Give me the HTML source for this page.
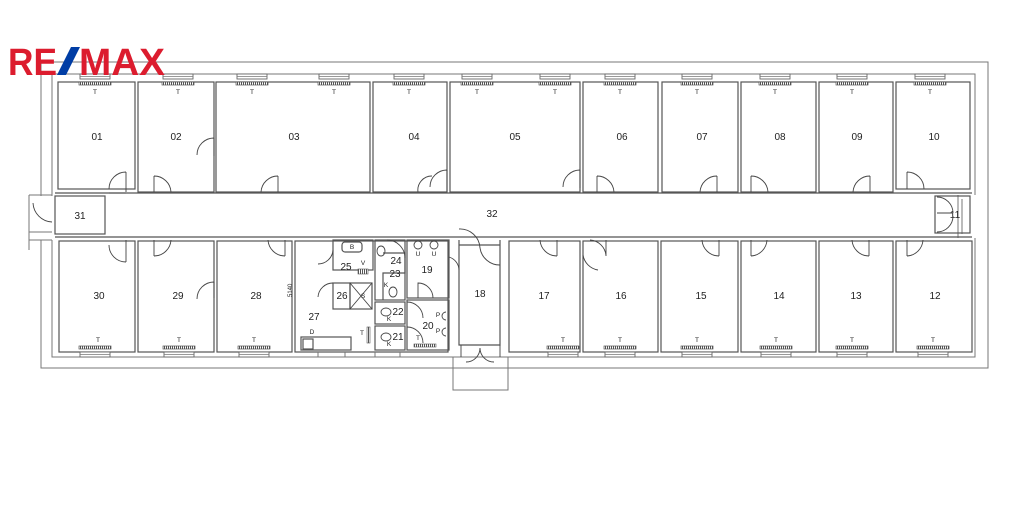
<!DOCTYPE html>
<html><head><meta charset="utf-8"><style>
html,body{margin:0;padding:0;background:#fff;}
svg{display:block;}
text{font-family:"Liberation Sans",sans-serif;fill:#222;}
.r{fill:none;stroke:#555;stroke-width:1.2}
.w{fill:none;stroke:#777;stroke-width:1}
.d{fill:none;stroke:#444;stroke-width:0.9}
.lb{font-size:10px;text-anchor:middle;}
.t{font-size:6.5px;text-anchor:middle;}
</style></head><body>
<svg width="1030" height="521" viewBox="0 0 1030 521" xmlns="http://www.w3.org/2000/svg">
<defs>
<pattern id="h" width="2" height="4" patternUnits="userSpaceOnUse"><rect width="2" height="4" fill="#fff"/><rect width="1" height="4" fill="#555"/></pattern>
<g id="wt"><rect x="0" y="0" width="30" height="5" fill="#fff" stroke="#666" stroke-width="0.9"/><line x1="0" y1="2.5" x2="30" y2="2.5" stroke="#777" stroke-width="0.8"/><rect x="-1" y="8" width="32" height="3" fill="url(#h)" stroke="#555" stroke-width="0.7"/></g>
<g id="wb"><rect x="-1" y="0" width="32" height="3" fill="url(#h)" stroke="#555" stroke-width="0.7"/><rect x="0" y="6" width="30" height="5" fill="#fff" stroke="#666" stroke-width="0.9"/><line x1="0" y1="8.5" x2="30" y2="8.5" stroke="#777" stroke-width="0.8"/></g>
</defs>

<!-- outer walls -->
<path class="w" d="M41 62 H988 V368 H41 V240 M41 196 V62"/>
<path class="w" d="M52 74 H975 V195 M975 238 V357 H52 V240 M52 196 V74"/>
<path class="w" d="M29 195 H52 M29 240 H52 M29 195 V250 M29 232 H52"/>
<path class="d" d="M33 203 A20 20 0 0 0 52 222"/>
<!-- entrance bottom -->
<path class="w" d="M453 357 V390 H508 V357 M453 368 H508"/>
<path class="w" d="M958 195 V238 M962 199 V234"/>

<!-- corridor -->
<path class="r" d="M55 193 H972 M55 237 H972"/>
<rect class="r" x="55" y="196" width="50" height="38"/>
<text class="lb" x="80" y="219">31</text>
<text class="lb" x="492" y="217">32</text>
<rect class="r" x="935" y="196" width="35" height="37"/>
<text class="lb" x="955" y="218">11</text>
<path class="d" d="M937 197 A16 16 0 0 1 953 213 M937 232 A16 16 0 0 0 953 216 M937 213 H953"/>

<!-- top rooms -->
<rect class="r" x="58" y="82" width="77" height="107"/>
<rect class="r" x="138" y="82" width="76" height="110"/>
<rect class="r" x="216" y="82" width="154" height="110"/>
<rect class="r" x="373" y="82" width="74" height="110"/>
<rect class="r" x="450" y="82" width="130" height="110"/>
<rect class="r" x="583" y="82" width="75" height="110"/>
<rect class="r" x="662" y="82" width="76" height="110"/>
<rect class="r" x="741" y="82" width="75" height="110"/>
<rect class="r" x="819" y="82" width="74" height="110"/>
<rect class="r" x="896" y="82" width="74" height="107"/>
<text class="lb" x="97" y="140">01</text><text class="lb" x="176" y="140">02</text><text class="lb" x="294" y="140">03</text><text class="lb" x="414" y="140">04</text><text class="lb" x="515" y="140">05</text><text class="lb" x="622" y="140">06</text><text class="lb" x="702" y="140">07</text><text class="lb" x="780" y="140">08</text><text class="lb" x="857" y="140">09</text><text class="lb" x="934" y="140">10</text>
<!-- top windows -->
<use href="#wt" x="80" y="74"/><use href="#wt" x="163" y="74"/><use href="#wt" x="237" y="74"/><use href="#wt" x="319" y="74"/><use href="#wt" x="394" y="74"/><use href="#wt" x="462" y="74"/><use href="#wt" x="540" y="74"/><use href="#wt" x="605" y="74"/><use href="#wt" x="682" y="74"/><use href="#wt" x="760" y="74"/><use href="#wt" x="837" y="74"/><use href="#wt" x="915" y="74"/>
<text class="t" x="95" y="94">T</text><text class="t" x="178" y="94">T</text><text class="t" x="252" y="94">T</text><text class="t" x="334" y="94">T</text><text class="t" x="409" y="94">T</text><text class="t" x="477" y="94">T</text><text class="t" x="555" y="94">T</text><text class="t" x="620" y="94">T</text><text class="t" x="697" y="94">T</text><text class="t" x="775" y="94">T</text><text class="t" x="852" y="94">T</text><text class="t" x="930" y="94">T</text>
<!-- top doors -->
<path class="d" d="M126 172 V192 M126 172 A17 17 0 0 0 109 189 M154 176 V192 M154 176 A17 17 0 0 1 171 192 M214 138 V156 M214 138 A17 17 0 0 0 197 155 M278 176 V192 M278 176 A17 17 0 0 0 261 192 M447 170 V192 M447 170 A17 17 0 0 0 430 187 M432 176 A14 14 0 0 0 418 192 M580 170 V188 M580 170 A17 17 0 0 0 563 187 M597 176 V192 M597 176 A17 17 0 0 1 614 192 M717 176 V192 M717 176 A17 17 0 0 0 700 192 M751 176 V192 M751 176 A17 17 0 0 1 768 192 M870 176 V192 M870 176 A17 17 0 0 0 853 192 M907 172 V189 M907 172 A17 17 0 0 1 924 189 M109 193 H126"/>

<!-- bottom rooms -->
<rect class="r" x="59" y="241" width="76" height="111"/>
<rect class="r" x="138" y="241" width="76" height="111"/>
<rect class="r" x="217" y="241" width="75" height="111"/>
<rect class="r" x="295" y="241" width="153" height="111"/>
<rect class="r" x="509" y="241" width="71" height="111"/>
<rect class="r" x="583" y="241" width="75" height="111"/>
<rect class="r" x="661" y="241" width="77" height="111"/>
<rect class="r" x="741" y="241" width="75" height="111"/>
<rect class="r" x="819" y="241" width="74" height="111"/>
<rect class="r" x="896" y="241" width="76" height="111"/>
<text class="lb" x="99" y="299">30</text><text class="lb" x="178" y="299">29</text><text class="lb" x="256" y="299">28</text><text class="lb" x="544" y="299">17</text><text class="lb" x="621" y="299">16</text><text class="lb" x="701" y="299">15</text><text class="lb" x="779" y="299">14</text><text class="lb" x="856" y="299">13</text><text class="lb" x="935" y="299">12</text>
<text style="font-size:6px" x="289" y="300" transform="rotate(-90 289 297)">5140</text>
<!-- bottom windows -->
<use href="#wb" x="80" y="346"/><use href="#wb" x="164" y="346"/><use href="#wb" x="239" y="346"/><use href="#wb" x="548" y="346"/><use href="#wb" x="605" y="346"/><use href="#wb" x="682" y="346"/><use href="#wb" x="761" y="346"/><use href="#wb" x="837" y="346"/><use href="#wb" x="918" y="346"/>
<text class="t" x="98" y="342">T</text><text class="t" x="179" y="342">T</text><text class="t" x="254" y="342">T</text><text class="t" x="563" y="342">T</text><text class="t" x="620" y="342">T</text><text class="t" x="697" y="342">T</text><text class="t" x="776" y="342">T</text><text class="t" x="852" y="342">T</text><text class="t" x="933" y="342">T</text>
<!-- bottom doors -->
<path class="d" d="M126 240 V262 M126 262 A17 17 0 0 1 109 245 M154 240 V256 M154 256 A17 17 0 0 0 171 240 M214 282 V298 M214 282 A17 17 0 0 0 197 299 M285 240 V256 M285 256 A17 17 0 0 1 268 240 M557 240 V256 M557 256 A17 17 0 0 1 540 240 M606 240 V256 M606 256 A17 17 0 0 0 590 240 M583 255 A18 18 0 0 0 598 270 M719 240 V256 M719 256 A17 17 0 0 1 702 240 M751 240 V256 M751 256 A17 17 0 0 0 767 240 M869 240 V256 M869 256 A17 17 0 0 1 852 240 M907 240 V256 M907 256 A17 17 0 0 0 923 240"/>

<!-- service block -->
<rect class="r" x="333" y="240" width="40" height="30"/>
<rect class="r" x="342" y="242" width="20" height="10" rx="3"/>
<text class="t" x="352" y="249">B</text>
<text class="lb" x="346" y="270">25</text>
<text class="t" x="363" y="265">V</text>
<rect x="358" y="269" width="10" height="5" fill="url(#h)" stroke="#555" stroke-width="0.6"/>
<rect class="r" x="333" y="283" width="17" height="26"/>
<text class="lb" x="342" y="299">26</text>
<rect class="r" x="350" y="283" width="22" height="26"/>
<path class="d" d="M350 283 L372 309 M372 283 L350 309"/>
<text class="t" x="363" y="298">S</text>
<path class="d" d="M333 283 A15 15 0 0 0 318 297 M333 250 A15 15 0 0 1 318 264"/>
<rect class="r" x="375" y="240" width="30" height="60"/>
<path class="r" d="M383 253 H405 V273 H383 V300"/>
<text class="lb" x="396" y="264">24</text>
<text class="lb" x="395" y="277">23</text>
<ellipse class="d" cx="381" cy="251" rx="4" ry="5"/>
<ellipse class="d" cx="393" cy="292" rx="4" ry="5"/>
<text class="t" x="386" y="287">K</text>
<path class="d" d="M387 240 A18 18 0 0 1 405 258"/>
<rect class="r" x="407" y="240" width="42" height="58"/>
<circle class="d" cx="418" cy="245" r="4"/><circle class="d" cx="434" cy="245" r="4"/>
<text class="t" x="418" y="256">U</text><text class="t" x="434" y="256">U</text>
<text class="lb" x="427" y="273">19</text>
<path class="d" d="M418 298 V283 A15 15 0 0 1 433 298"/>
<rect class="r" x="375" y="302" width="30" height="22"/>
<rect class="r" x="375" y="326" width="30" height="24"/>
<text class="lb" x="398" y="315">22</text><text class="lb" x="398" y="340">21</text>
<ellipse class="d" cx="386" cy="312" rx="5" ry="4"/><ellipse class="d" cx="386" cy="337" rx="5" ry="4"/>
<text class="t" x="389" y="321">K</text><text class="t" x="389" y="346">K</text>
<rect class="r" x="407" y="300" width="42" height="50"/>
<text class="lb" x="428" y="329">20</text>
<text class="t" x="438" y="317">P</text><text class="t" x="438" y="333">P</text>
<path class="d" d="M446 312 A4 4 0 1 0 446 320 M446 328 A4 4 0 1 0 446 336 M407 302 A16 16 0 0 1 423 318 M407 327 A16 16 0 0 1 423 343"/>
<rect x="414" y="344" width="22" height="3" fill="url(#h)" stroke="#555" stroke-width="0.6"/>
<text class="t" x="418" y="340">T</text>
<text class="lb" x="314" y="320">27</text>
<text class="t" x="312" y="334">D</text>
<rect class="r" x="301" y="337" width="50" height="13"/>
<rect class="r" x="303" y="339" width="10" height="10"/>
<text class="t" x="362" y="335">T</text>
<rect x="367" y="327" width="3" height="16" fill="url(#h)" stroke="#555" stroke-width="0.6"/>
<path class="w" d="M318 352 V357 M345 352 V357 M375 352 V357 M400 352 V357"/>
<!-- 18 -->
<path class="r" d="M459 240 V345 H500 V240 M459 245 H500"/>
<text class="lb" x="480" y="297">18</text>
<path class="d" d="M459 229 A20 20 0 0 1 480 248 M480 248 A20 20 0 0 0 500 265 M449 257 A14 14 0 0 1 459 270 M466 362 A14 14 0 0 0 480 348 M494 362 A14 14 0 0 1 480 348 M461 345 V357 M500 345 V357"/>

<!-- logo -->
<text x="8" y="75" textLength="49" lengthAdjust="spacingAndGlyphs" style="font-size:38px;font-weight:bold;fill:#dc1c2e">RE</text>
<polygon points="57,75 66,75 80,47 71,47" fill="#003da5"/>
<text x="79" y="75" textLength="86" lengthAdjust="spacingAndGlyphs" style="font-size:38px;font-weight:bold;fill:#dc1c2e">MAX</text>
</svg>
</body></html>
